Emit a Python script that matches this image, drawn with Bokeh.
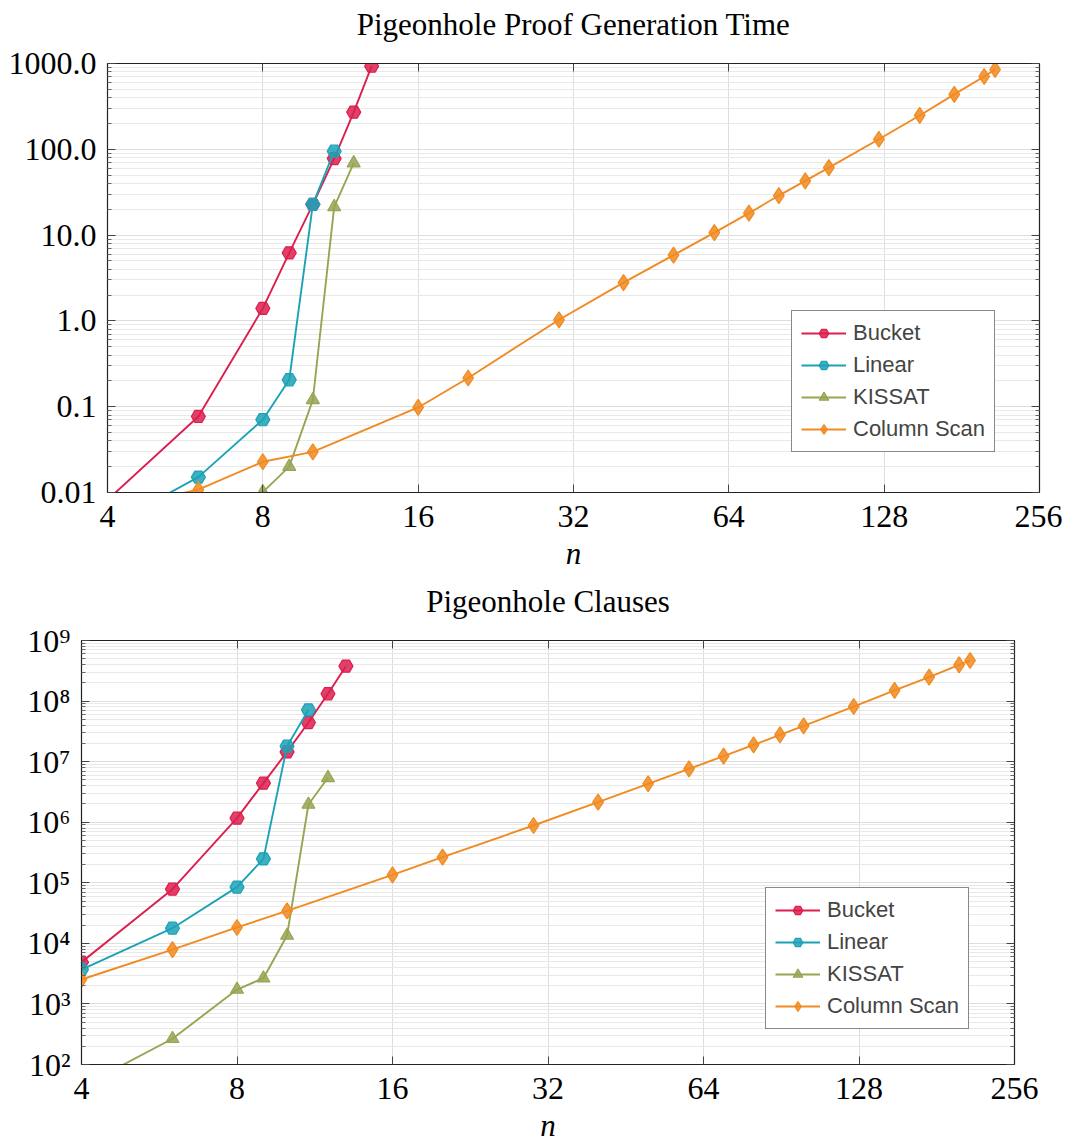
from bokeh.plotting import figure
from bokeh.models import (FixedTicker, LogAxis, Legend, LegendItem)
from bokeh.embed import file_html
from bokeh.resources import INLINE

# ---------------- data ----------------
x_ticks = [4, 8, 16, 32, 64, 128, 256]
x_tick_labels = ["4", "8", "16", "32", "64", "128", "256"]

n_bucket = [4, 6, 8, 9, 10, 11, 12, 13]
n_linear = [4, 6, 8, 9, 10, 11]
n_kissat_time = [8, 9, 10, 11, 12]
n_kissat_clause = [4, 6, 8, 9, 10, 11, 12]
n_colscan = [4, 6, 8, 10, 16, 20, 30, 40, 50, 60, 70, 80, 90, 100, 125, 150, 175, 200, 210]

time_bucket = [0.0082, 0.077, 1.40, 6.2, 22.8, 78, 271, 930]
time_linear = [0.004, 0.0151, 0.0706, 0.206, 22.8, 95]
time_kissat = [0.0101, 0.020, 0.12, 21.3, 69]
time_colscan = [0.0063, 0.0108, 0.0228, 0.0297, 0.098, 0.216, 1.03, 2.79, 5.85,
                10.7, 18.0, 28.9, 42.8, 61.2, 131, 248, 436, 706, 851]

clause_bucket = [4890, 78500, 1.17e6, 4.42e6, 1.45e7, 4.42e7, 1.32e8, 3.77e8]
clause_linear = [3700, 17800, 84700, 248000, 1.80e7, 7.16e7]
clause_kissat = [43, 266, 1730, 2660, 13500, 1.96e6, 5.41e6]
clause_colscan = [2530, 7900, 18300, 34400, 135000, 266000, 883000, 2.14e6, 4.31e6,
                  7.61e6, 1.23e7, 1.89e7, 2.77e7, 3.90e7, 8.13e7, 1.50e8, 2.48e8,
                  3.96e8, 4.68e8]

time_ticks = [0.01, 0.1, 1, 10, 100, 1000]
time_tick_labels = ["0.01", "0.1", "1.0", "10.0", "100.0", "1000.0"]
clause_ticks = [1e2, 1e3, 1e4, 1e5, 1e6, 1e7, 1e8, 1e9]
clause_tick_labels = ["10²", "10³", "10⁴", "10⁵", "10⁶", "10⁷", "10⁸", "10⁹"]

series_names = ["Bucket", "Linear", "KISSAT", "Column Scan"]
colors = ["#dc1f4e", "#1ca2b6", "#97a552", "#f18a20"]
markers = ["hex", "hex", "triangle", "diamond"]
marker_sizes = [14, 14, 13, 16]

SERIF = "Liberation Serif"
SANS = "Liberation Sans"


def minor_of(ticks):
    out = []
    for t in ticks[:-1]:
        for k in range(2, 10):
            out.append(t * k)
    return out


def make_fig(title, y_range, yticks, ylabels, width, height,
             min_left, min_right, min_top, min_bottom, xs, ys, legend_loc):
    p = figure(width=width, height=height, x_axis_type="log", y_axis_type="log",
               x_range=(4, 256), y_range=y_range, title_location=None,
               min_border_left=min_left, min_border_right=min_right,
               min_border_top=min_top, min_border_bottom=min_bottom,
               output_backend="svg", toolbar_location=None)
    p.outline_line_color = "#222222"
    p.outline_line_width = 1.2
    p.background_fill_color = "white"

    xt = FixedTicker(ticks=x_ticks, minor_ticks=[])
    yt = FixedTicker(ticks=yticks, minor_ticks=minor_of(yticks))

    xa = p.xaxis[0]
    xa.ticker = xt
    xa.major_label_overrides = {t: l for t, l in zip(x_ticks, x_tick_labels)}
    xa.axis_label = "n"
    xa.axis_label_text_font = SERIF
    xa.axis_label_text_font_style = "italic"
    xa.axis_label_text_font_size = "31px"
    xa.axis_label_text_color = "black"
    xa.axis_label_standoff = 6
    ya = p.yaxis[0]
    ya.ticker = yt
    ya.major_label_overrides = {t: l for t, l in zip(yticks, ylabels)}

    for ax in (xa, ya):
        ax.major_label_text_font = SERIF
        ax.major_label_text_font_size = "32px"
        ax.major_label_text_color = "black"
        ax.major_tick_in = 8
        ax.major_tick_out = 0
        ax.minor_tick_in = 4
        ax.minor_tick_out = 0
        ax.axis_line_color = "#222222"
        ax.major_tick_line_color = "#444444"
        ax.minor_tick_line_color = "#666666"
    xa.major_label_standoff = 13
    ya.major_label_standoff = 11

    # top axis: inward ticks, and the chart title as its axis label
    top = LogAxis(ticker=xt, major_tick_in=8, major_tick_out=0, minor_tick_in=0,
                  minor_tick_out=0,
                  major_label_overrides={t: "" for t in x_ticks},
                  major_label_standoff=0, axis_line_color="#222222",
                  major_tick_line_color="#444444",
                  axis_label=title, axis_label_text_font=SERIF,
                  axis_label_text_font_size="31px",
                  axis_label_text_font_style="normal",
                  axis_label_text_color="black", axis_label_standoff=22)
    right = LogAxis(ticker=yt, major_tick_in=8, major_tick_out=0, minor_tick_in=4,
                    minor_tick_out=0,
                    major_label_overrides={t: "" for t in yticks},
                    major_label_standoff=0, axis_line_color="#222222",
                    major_tick_line_color="#444444",
                    minor_tick_line_color="#666666")
    p.add_layout(top, "above")
    p.add_layout(right, "right")

    p.xgrid.ticker = xt
    p.ygrid.ticker = yt
    p.xgrid.grid_line_color = "#dedede"
    p.ygrid.grid_line_color = "#dedede"
    p.ygrid.minor_grid_line_color = "#e9e9e9"
    p.xgrid.grid_line_width = 1
    p.ygrid.grid_line_width = 1

    items = []
    for name, c, m, s, x, y in zip(series_names, colors, markers, marker_sizes, xs, ys):
        r1 = p.line(x, y, line_color=c, line_width=1.9)
        r2 = p.scatter(x, y, marker=m, size=s, fill_color=c, fill_alpha=0.85,
                       line_color=c, line_width=1.2)
        items.append(LegendItem(label=name, renderers=[r1, r2]))

    leg = Legend(items=items, location=legend_loc, margin=0,
                 label_text_font=SANS, label_text_font_size="22px",
                 glyph_width=45, glyph_height=24, label_height=24,
                 label_standoff=7, spacing=6, padding=9,
                 border_line_color="#111111", border_line_width=1,
                 background_fill_color="white", background_fill_alpha=1)
    p.add_layout(leg)
    return p


p1 = make_fig("Pigeonhole Proof Generation Time", (0.01, 1000), time_ticks,
              time_tick_labels, 1062, 573, 107, 23, 63, 80,
              [n_bucket, n_linear, n_kissat_time, n_colscan],
              [time_bucket, time_linear, time_kissat, time_colscan], (684, 40))
p2 = make_fig("Pigeonhole Clauses", (1e2, 1e9), clause_ticks, clause_tick_labels,
              1062, 572, 81, 48, 67, 81,
              [n_bucket, n_linear, n_kissat_clause, n_colscan],
              [clause_bucket, clause_linear, clause_kissat, clause_colscan], (684, 35))

open("out.html", "w").write(file_html([p1, p2], INLINE))
